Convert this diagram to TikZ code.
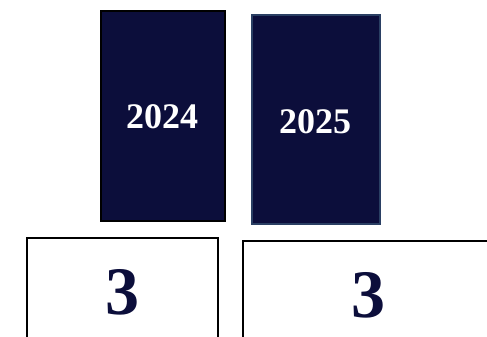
\documentclass[tikz,border=0pt]{standalone}
\usepackage{fontspec}
\setmainfont{Liberation Serif}
\definecolor{navy}{HTML}{0C0E3B}
\definecolor{edgeblue}{HTML}{2A3F63}
\begin{document}
\begin{tikzpicture}[x=1pt,y=-1pt,
  yearbox/.style={fill=navy,line width=1.5pt},
  numbox/.style={draw=black,line width=1.3pt,fill=white},
  yeartext/.style={text=white,font=\bfseries\fontsize{36}{40}\selectfont},
  numtext/.style={text=navy,font=\bfseries\fontsize{68}{72}\selectfont}]
\useasboundingbox[fill=white] (0,0) rectangle (487,337);
\begin{scope}
\clip (0,0) rectangle (487,337);
\draw[yearbox,draw=black] (101,11) rectangle (225,221);
\draw[yearbox,draw=edgeblue] (252,15) rectangle (380,224);
\draw[numbox] (27,238) rectangle (218,345);
\draw[numbox] (243,241) rectangle (495,345);
\end{scope}
\node[yeartext] (y24) at (162,117) {2024};
\node[yeartext] (y25) at (315,122) {2025};
\node[numtext] (n1) at (122,292) {3};
\node[numtext] (n2) at (368,295) {3};
\end{tikzpicture}
\end{document}
